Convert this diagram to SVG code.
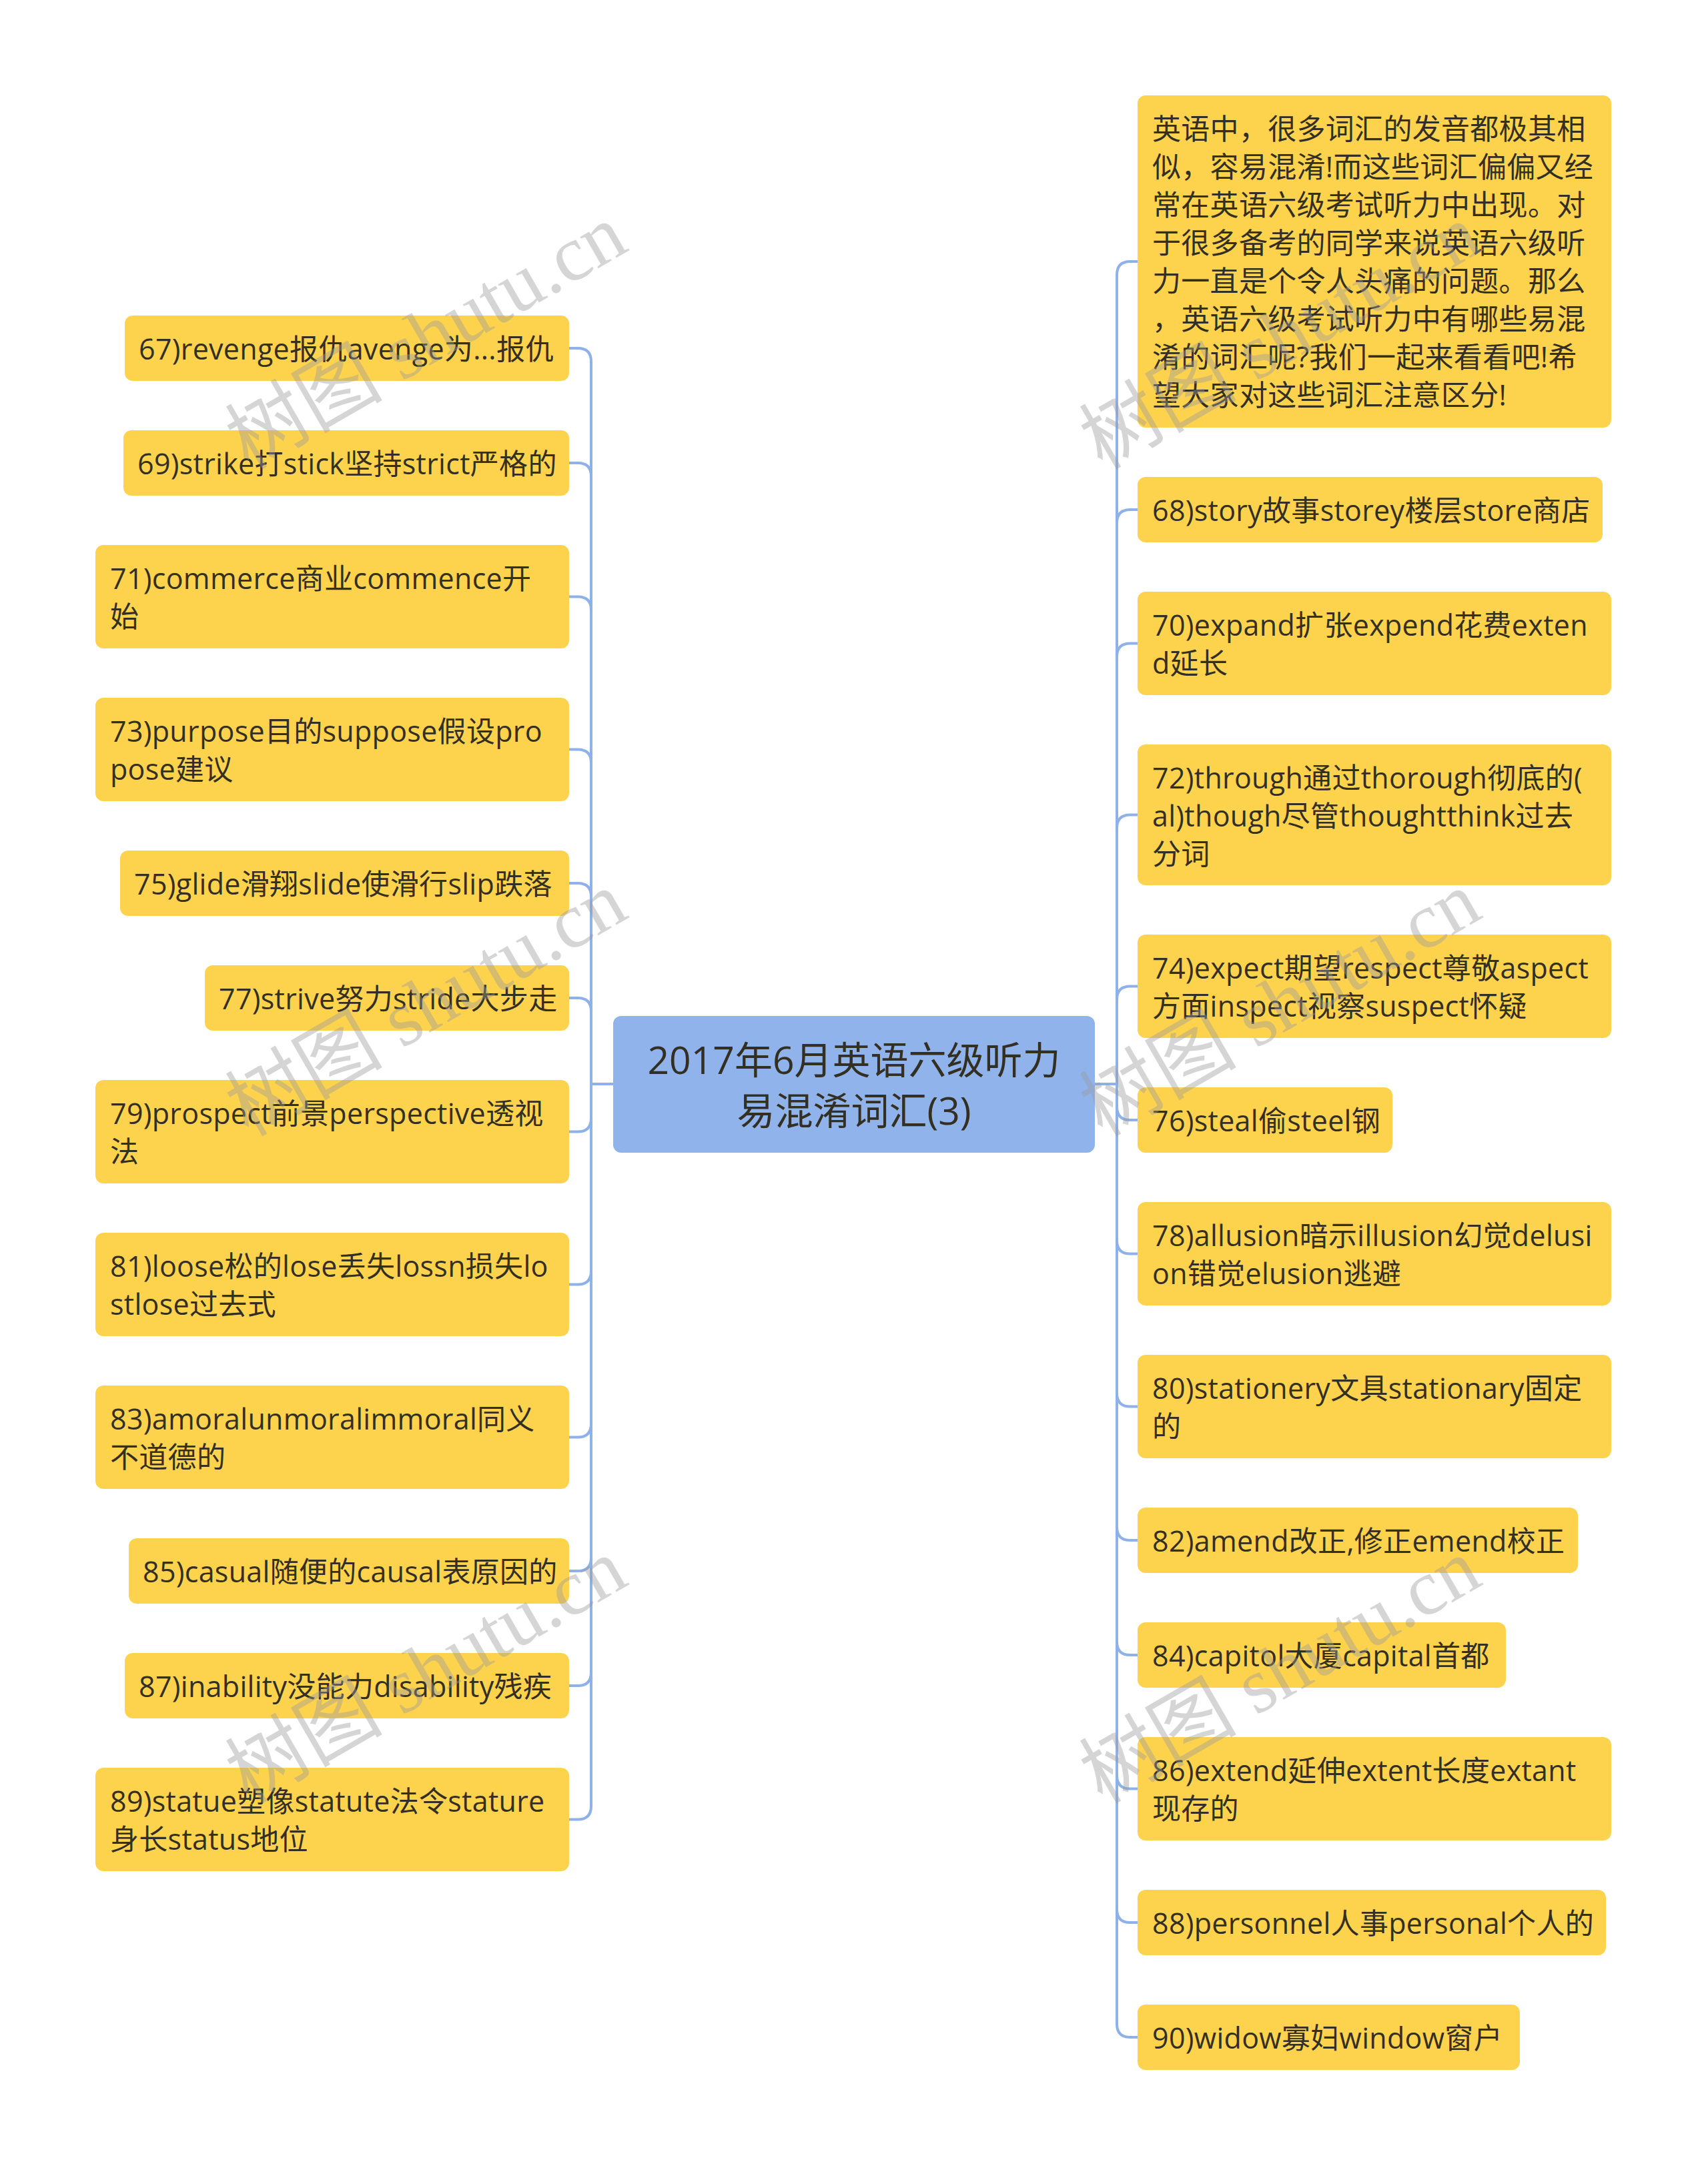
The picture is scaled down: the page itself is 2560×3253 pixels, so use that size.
<svg xmlns="http://www.w3.org/2000/svg" width="2560" height="3253" viewBox="0 0 2560 3253">
<style>
.bg{fill:#ffffff}
.n rect{fill:#fdd34e}
.c rect{fill:#8fb3ea}
text{font-family:"Open Sans","Noto Sans CJK SC",sans-serif;fill:#332f22}
.n text{font-size:43px;letter-spacing:0.3px}
.c text{font-size:57px;text-anchor:middle}
.e path{fill:none;stroke:#8db1e8;stroke-width:4}
.wm{font-family:"Liberation Serif","Noto Sans CJK SC",serif;font-size:118px;fill:#9a9a9a;fill-opacity:0.42}
</style>
<rect class="bg" x="0" y="0" width="2560" height="3253"/>
<g id="connectors" class="e">
<path d="M919 1625 H886 V542 Q886 522 866 522 H853"/>
<path d="M919 1625 H886 V714 Q886 694 866 694 H853"/>
<path d="M919 1625 H886 V914.5 Q886 894.5 866 894.5 H853"/>
<path d="M919 1625 H886 V1143.5 Q886 1123.5 866 1123.5 H853"/>
<path d="M919 1625 H886 V1344 Q886 1324 866 1324 H853"/>
<path d="M919 1625 H886 V1516 Q886 1496 866 1496 H853"/>
<path d="M919 1625 H886 V1676.5 Q886 1696.5 866 1696.5 H853"/>
<path d="M919 1625 H886 V1905.5 Q886 1925.5 866 1925.5 H853"/>
<path d="M919 1625 H886 V2134.5 Q886 2154.5 866 2154.5 H853"/>
<path d="M919 1625 H886 V2335 Q886 2355 866 2355 H853"/>
<path d="M919 1625 H886 V2507 Q886 2527 866 2527 H853"/>
<path d="M919 1625 H886 V2707.5 Q886 2727.5 866 2727.5 H853"/>
<path d="M1641 1625 H1674 V412 Q1674 392 1694 392 H1705"/>
<path d="M1641 1625 H1674 V784 Q1674 764 1694 764 H1705"/>
<path d="M1641 1625 H1674 V984.5 Q1674 964.5 1694 964.5 H1705"/>
<path d="M1641 1625 H1674 V1241.5 Q1674 1221.5 1694 1221.5 H1705"/>
<path d="M1641 1625 H1674 V1498.5 Q1674 1478.5 1694 1478.5 H1705"/>
<path d="M1641 1625 H1674 V1659 Q1674 1679 1694 1679 H1705"/>
<path d="M1641 1625 H1674 V1859.5 Q1674 1879.5 1694 1879.5 H1705"/>
<path d="M1641 1625 H1674 V2088.5 Q1674 2108.5 1694 2108.5 H1705"/>
<path d="M1641 1625 H1674 V2289 Q1674 2309 1694 2309 H1705"/>
<path d="M1641 1625 H1674 V2461 Q1674 2481 1694 2481 H1705"/>
<path d="M1641 1625 H1674 V2661.5 Q1674 2681.5 1694 2681.5 H1705"/>
<path d="M1641 1625 H1674 V2862 Q1674 2882 1694 2882 H1705"/>
<path d="M1641 1625 H1674 V3034 Q1674 3054 1694 3054 H1705"/>
</g>
<g id="root" class="c">
<rect x="919" y="1523" width="722" height="205" rx="12"/>
<text x="1280" y="1610">2017年6月英语六级听力</text>
<text x="1280" y="1686">易混淆词汇(3)</text>
</g>
<g id="n67" class="n"><rect x="187" y="473" width="666" height="98" rx="12"/><text x="208" y="539">67)revenge报仇avenge为...报仇</text></g>
<g id="n69" class="n"><rect x="185" y="645" width="668" height="98" rx="12"/><text x="206" y="711">69)strike打stick坚持strict严格的</text></g>
<g id="n71" class="n"><rect x="143" y="817" width="710" height="155" rx="12"/><text x="165" y="883">71)commerce商业commence开</text><text x="165" y="940">始</text></g>
<g id="n73" class="n"><rect x="143" y="1046" width="710" height="155" rx="12"/><text x="165" y="1112">73)purpose目的suppose假设pro</text><text x="165" y="1169">pose建议</text></g>
<g id="n75" class="n"><rect x="180" y="1275" width="673" height="98" rx="12"/><text x="201" y="1341">75)glide滑翔slide使滑行slip跌落</text></g>
<g id="n77" class="n"><rect x="307" y="1447" width="546" height="98" rx="12"/><text x="328" y="1513">77)strive努力stride大步走</text></g>
<g id="n79" class="n"><rect x="143" y="1619" width="710" height="155" rx="12"/><text x="165" y="1685">79)prospect前景perspective透视</text><text x="165" y="1742">法</text></g>
<g id="n81" class="n"><rect x="143" y="1848" width="710" height="155" rx="12"/><text x="165" y="1914">81)loose松的lose丢失lossn损失lo</text><text x="165" y="1971">stlose过去式</text></g>
<g id="n83" class="n"><rect x="143" y="2077" width="710" height="155" rx="12"/><text x="165" y="2143">83)amoralunmoralimmoral同义</text><text x="165" y="2200">不道德的</text></g>
<g id="n85" class="n"><rect x="193" y="2306" width="660" height="98" rx="12"/><text x="214" y="2372">85)casual随便的causal表原因的</text></g>
<g id="n87" class="n"><rect x="187" y="2478" width="666" height="98" rx="12"/><text x="208" y="2544">87)inability没能力disability残疾</text></g>
<g id="n89" class="n"><rect x="143" y="2650" width="710" height="155" rx="12"/><text x="165" y="2716">89)statue塑像statute法令stature</text><text x="165" y="2773">身长status地位</text></g>
<g id="intro" class="n"><rect x="1705" y="143" width="710" height="498" rx="12"/>
<text x="1727" y="209">英语中，很多词汇的发音都极其相</text>
<text x="1727" y="266">似，容易混淆!而这些词汇偏偏又经</text>
<text x="1727" y="323">常在英语六级考试听力中出现。对</text>
<text x="1727" y="380">于很多备考的同学来说英语六级听</text>
<text x="1727" y="437">力一直是个令人头痛的问题。那么</text>
<text x="1727" y="494">，英语六级考试听力中有哪些易混</text>
<text x="1727" y="551">淆的词汇呢?我们一起来看看吧!希</text>
<text x="1727" y="608">望大家对这些词汇注意区分!</text>
</g>
<g id="n68" class="n"><rect x="1705" y="715" width="697" height="98" rx="12"/><text x="1727" y="781">68)story故事storey楼层store商店</text></g>
<g id="n70" class="n"><rect x="1705" y="887" width="710" height="155" rx="12"/><text x="1727" y="953">70)expand扩张expend花费exten</text><text x="1727" y="1010">d延长</text></g>
<g id="n72" class="n"><rect x="1705" y="1116" width="710" height="211" rx="12"/><text x="1727" y="1182">72)through通过thorough彻底的(</text><text x="1727" y="1239">al)though尽管thoughtthink过去</text><text x="1727" y="1296">分词</text></g>
<g id="n74" class="n"><rect x="1705" y="1401" width="710" height="155" rx="12"/><text x="1727" y="1467">74)expect期望respect尊敬aspect</text><text x="1727" y="1524">方面inspect视察suspect怀疑</text></g>
<g id="n76" class="n"><rect x="1705" y="1630" width="382" height="98" rx="12"/><text x="1727" y="1696">76)steal偷steel钢</text></g>
<g id="n78" class="n"><rect x="1705" y="1802" width="710" height="155" rx="12"/><text x="1727" y="1868">78)allusion暗示illusion幻觉delusi</text><text x="1727" y="1925">on错觉elusion逃避</text></g>
<g id="n80" class="n"><rect x="1705" y="2031" width="710" height="155" rx="12"/><text x="1727" y="2097">80)stationery文具stationary固定</text><text x="1727" y="2154">的</text></g>
<g id="n82" class="n"><rect x="1705" y="2260" width="660" height="98" rx="12"/><text x="1727" y="2326">82)amend改正,修正emend校正</text></g>
<g id="n84" class="n"><rect x="1705" y="2432" width="552" height="98" rx="12"/><text x="1727" y="2498">84)capitol大厦capital首都</text></g>
<g id="n86" class="n"><rect x="1705" y="2604" width="710" height="155" rx="12"/><text x="1727" y="2670">86)extend延伸extent长度extant</text><text x="1727" y="2727">现存的</text></g>
<g id="n88" class="n"><rect x="1705" y="2833" width="702" height="98" rx="12"/><text x="1727" y="2899">88)personnel人事personal个人的</text></g>
<g id="n90" class="n"><rect x="1705" y="3005" width="573" height="98" rx="12"/><text x="1727" y="3071">90)widow寡妇window窗户</text></g>
<g id="watermarks">
<text class="wm" transform="translate(372 705) rotate(-30)">树图 shutu.cn</text>
<text class="wm" transform="translate(1652 705) rotate(-30)">树图 shutu.cn</text>
<text class="wm" transform="translate(372 1705) rotate(-30)">树图 shutu.cn</text>
<text class="wm" transform="translate(1652 1705) rotate(-30)">树图 shutu.cn</text>
<text class="wm" transform="translate(372 2705) rotate(-30)">树图 shutu.cn</text>
<text class="wm" transform="translate(1652 2705) rotate(-30)">树图 shutu.cn</text>
</g>
</svg>
